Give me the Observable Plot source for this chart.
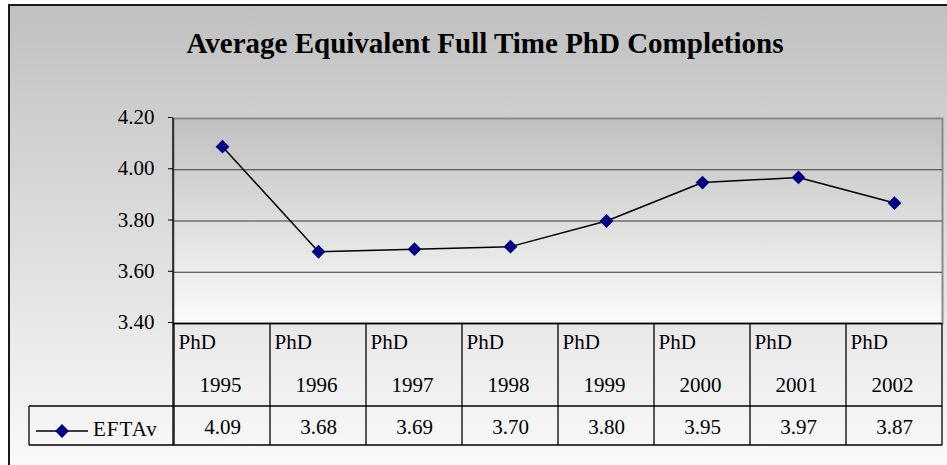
<!DOCTYPE html>
<html><head><meta charset="utf-8">
<script src="https://cdn.jsdelivr.net/npm/d3@7"></script>
<script src="https://cdn.jsdelivr.net/npm/@observablehq/plot@0.6"></script>
<style>body{margin:0;background:#fff} svg{display:block}</style>
</head><body><div id="chart"></div>
<script>
const title = "Average Equivalent Full Time PhD Completions";
const categoryPrefix = "PhD";
const years = ["1995","1996","1997","1998","1999","2000","2001","2002"];
const values = [4.09,3.68,3.69,3.70,3.80,3.95,3.97,3.87];
const seriesName = "EFTAv";
const yTicks = [3.40,3.60,3.80,4.00,4.20];

const data = years.map((y,i)=>({cat: categoryPrefix+" "+y, year: y, value: values[i]}));
const cats = data.map(d=>d.cat);

const W=947,H=465, mL=173, mR=5, mT=118, mB=142;
const font = "Liberation Serif";
const navy = "#000080";
const rowH1 = 83, rowH2 = 39;
const legendLeft = 29;
const bwEst = Math.floor((W-mL-mR)/cats.length);
const dotR = 6.2;

function background(index, scales, vals, dims) {
  const g = d3.create("svg:g");
  const defs = g.append("defs");
  const g1 = defs.append("linearGradient").attr("id","chartBg").attr("x1",0).attr("y1",0).attr("x2",0).attr("y2",1);
  g1.append("stop").attr("offset","0%").attr("stop-color","#c0c0c0");
  g1.append("stop").attr("offset","100%").attr("stop-color","#ffffff");
  const g2 = defs.append("linearGradient").attr("id","plotBg").attr("x1",0).attr("y1",0).attr("x2",0).attr("y2",1);
  g2.append("stop").attr("offset","0%").attr("stop-color","#c0c0c0");
  g2.append("stop").attr("offset","100%").attr("stop-color","#fbfbfb");
  g.append("rect").attr("x",9).attr("y",5).attr("width",dims.width+20).attr("height",dims.height+40)
    .attr("fill","url(#chartBg)").attr("stroke","#1a1a1a").attr("stroke-width",2);
  return g.node();
}

function table(index, scales, vals, dims) {
  const g = d3.create("svg:g");
  const x = scales.x;
  const startOf = c => x(c);
  const top = dims.height - dims.marginBottom;
  const mid = top + rowH1, bot = mid + rowH2;
  const right = dims.width - dims.marginRight;
  const L = g.append("g").attr("stroke","#000").attr("stroke-width",1.3).attr("fill","none");
  const line = (x1,y1,x2,y2) => L.append("line").attr("x1",x1).attr("y1",y1).attr("x2",x2).attr("y2",y2);
  line(dims.marginLeft, dims.marginTop, dims.marginLeft, bot);
  cats.forEach(c => line(startOf(c), top, startOf(c), bot));
  line(right, top, right, bot);
  line(legendLeft, mid, right, mid);
  line(legendLeft, bot, right, bot);
  line(legendLeft, mid, legendLeft, bot);
  // legend key
  const ly = mid + 25;
  g.append("line").attr("x1",36).attr("x2",88).attr("y1",ly).attr("y2",ly).attr("stroke","#000").attr("stroke-width",1.5);
  g.append("path").attr("d", d3.symbol(d3.symbolDiamond2, Math.PI*dotR*dotR)()).attr("transform",`translate(62,${ly})`).attr("fill",navy);
  g.append("text").attr("x",93).attr("y",mid+30).attr("text-anchor","start")
    .attr("font-family",font).attr("font-size",21).attr("letter-spacing",1).attr("fill","#000").text(seriesName);
  return g.node();
}

const txt = {fontFamily: font, fontSize: 21, fill: "#000", stroke: "none"};

const chart = Plot.plot({
  width: W, height: H,
  marginLeft: mL, marginRight: mR, marginTop: mT, marginBottom: mB,
  style: {fontFamily: font, background: "#fff", color: "#000"},
  x: {type: "band", domain: cats, padding: 0, axis: null},
  y: {domain: [3.4, 4.2], axis: null},
  marks: [
    background,
    Plot.frame({fill: "url(#plotBg)", stroke: "#8a8a8a", strokeWidth: 2}),
    Plot.ruleY(yTicks.filter(t => t > 3.41 && t < 4.19), {stroke: "#3a3a3a", strokeWidth: 1}),
    Plot.axisY({ticks: yTicks, tickFormat: d3.format(".2f"), tickSize: 5, tickPadding: 14, fontSize: 21, fontFamily: font, label: null, stroke: "#000", fill: "#000", dy: -1}),
    Plot.ruleY([3.4], {stroke: "#000", strokeWidth: 1.3}),
    Plot.line(data, {x: "cat", y: "value", stroke: "#000", strokeWidth: 1.5}),
    Plot.dot(data, {x: "cat", y: "value", symbol: "diamond2", r: dotR, fill: navy, stroke: "none"}),
    table,
    Plot.text([title], {frameAnchor: "top", dx: -73, dy: -66, lineAnchor: "bottom", fontSize: 29, fontWeight: "bold", fontFamily: font, fill: "#000"}),
    Plot.text(data, {...txt, x: "cat", text: () => categoryPrefix, frameAnchor: "bottom", textAnchor: "start", dx: -bwEst/2 + 4, dy: 25.5, lineAnchor: "bottom"}),
    Plot.text(data, {...txt, x: "cat", text: "year", frameAnchor: "bottom", dx: -2, dy: 68, lineAnchor: "bottom"}),
    Plot.text(data, {...txt, x: "cat", text: d => d.value.toFixed(2), frameAnchor: "bottom", dy: 110, lineAnchor: "bottom"})
  ]
});
document.getElementById("chart").appendChild(chart);
</script>
</body></html>
